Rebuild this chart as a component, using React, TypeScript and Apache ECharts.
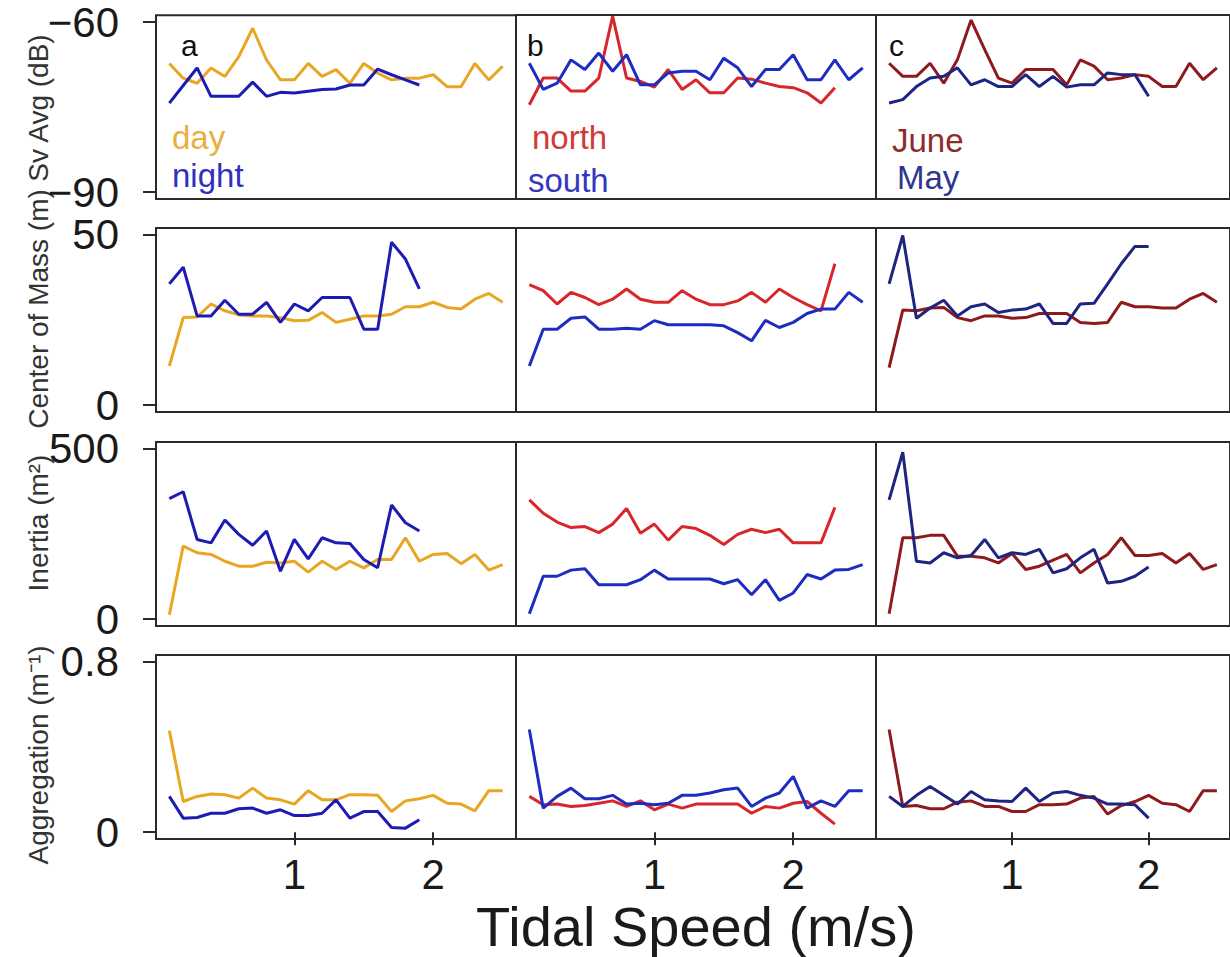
import React, { useEffect, useRef } from "react";
import * as echarts from "echarts";

// Tidal speed bins (m/s)
const SPEED = [
  0.1, 0.2, 0.3, 0.4, 0.5, 0.6, 0.7, 0.8, 0.9, 1.0, 1.1, 1.2, 1.3,
  1.4, 1.5, 1.6, 1.7, 1.8, 1.9, 2.0, 2.1, 2.2, 2.3, 2.4, 2.5,
];

// Row 1: mean volume backscattering (dB)
const DAY_SV = [-67.3, -69.9, -70.8, -68.1, -69.6, -66.1, -61.1, -66.7, -70.2, -70.2, -67.3, -69.6, -68.4, -70.8, -67.3, -69.0, -70.2, -69.9, -69.9, -69.3, -71.4, -71.4, -67.3, -70.2, -67.8];
const NIGHT_SV = [-74.3, -71.2, -68.1, -73.1, -73.1, -73.1, -70.6, -73.1, -72.4, -72.5, -72.2, -71.9, -71.8, -71.1, -71.1, -68.3, -69.3, -70.2, -71.1];
const NORTH_SV = [-74.6, -69.9, -69.9, -72.2, -72.2, -69.9, -59.0, -69.9, -70.5, -71.5, -68.4, -71.9, -70.2, -72.5, -72.5, -69.9, -70.1, -70.8, -71.4, -71.6, -72.5, -74.3, -71.6];
const SOUTH_SV = [-67.3, -71.9, -70.8, -66.7, -68.4, -65.5, -68.7, -65.8, -71.1, -71.1, -69.0, -68.7, -68.7, -70.2, -66.4, -68.1, -71.4, -68.4, -68.4, -65.8, -70.2, -70.2, -66.7, -70.2, -68.1];
const JUNE_SV = [-67.3, -69.6, -69.6, -67.3, -70.8, -66.7, -59.7, -64.9, -69.9, -70.8, -68.4, -68.4, -68.4, -71.1, -66.7, -67.8, -70.2, -69.9, -69.3, -69.6, -71.4, -71.4, -67.3, -70.2, -68.1];
const MAY_SV = [-74.3, -73.7, -71.4, -69.9, -69.6, -68.1, -71.1, -70.2, -71.4, -71.4, -69.3, -71.4, -69.6, -71.5, -71.1, -71.1, -69.0, -69.3, -69.3, -73.1];

// Row 2: center of mass (m)
const DAY_COM = [11.5, 25.7, 25.9, 29.7, 27.7, 26.5, 26.2, 26.2, 25.7, 24.8, 24.9, 27.2, 24.3, 25.2, 26.2, 26.2, 26.7, 28.9, 28.9, 30.2, 28.7, 28.2, 31.1, 32.8, 30.2];
const NIGHT_COM = [35.6, 40.5, 26.2, 26.2, 30.8, 26.7, 26.7, 30.2, 24.3, 29.7, 27.7, 31.6, 31.6, 31.6, 22.3, 22.3, 47.8, 42.9, 34.1];
const NORTH_COM = [35.4, 33.6, 29.7, 33.1, 31.6, 29.5, 31.1, 34.1, 31.1, 30.2, 30.2, 33.6, 31.1, 29.5, 29.5, 30.6, 33.1, 30.2, 34.1, 31.6, 29.5, 27.7, 41.5];
const SOUTH_COM = [11.5, 22.3, 22.3, 25.5, 25.9, 22.3, 22.3, 22.6, 22.3, 24.8, 23.6, 23.6, 23.6, 23.6, 23.3, 21.3, 18.9, 24.9, 22.8, 24.3, 26.9, 28.2, 28.2, 33.1, 30.2];
const JUNE_COM = [11.0, 27.9, 27.7, 28.5, 28.7, 25.7, 24.8, 26.2, 26.2, 25.5, 25.7, 26.9, 26.9, 26.9, 24.3, 24.0, 24.3, 30.2, 28.9, 28.9, 28.5, 28.5, 31.1, 32.8, 30.2];
const MAY_COM = [35.6, 49.8, 25.5, 28.5, 30.8, 26.2, 28.9, 29.7, 27.2, 27.9, 28.2, 29.7, 24.0, 24.0, 29.7, 29.9, 35.6, 41.5, 46.6, 46.6];

// Row 3: inertia (m^2)
const DAY_IN = [12.8, 214.6, 195, 190, 170, 155.5, 155.5, 167, 165, 170, 138, 170, 146, 170, 150.6, 175, 175, 239, 170, 190, 193, 163, 190, 144, 160];
const NIGHT_IN = [354, 374, 234, 224, 291, 249, 217, 259, 141, 234, 177, 239, 224, 222, 175, 151, 335, 283, 259];
const NORTH_IN = [350, 311, 285, 269, 272, 254, 279, 325, 252, 279, 232, 272, 266, 246, 219, 249, 264, 254, 264, 224, 224, 224, 328];
const SOUTH_IN = [15.7, 126, 126, 144, 148, 101, 101, 101, 116, 144, 118, 118, 118, 118, 104, 116, 72, 116, 55, 77, 131, 118, 144, 146, 160];
const JUNE_IN = [15.7, 239, 239, 246, 246, 185, 185, 180, 165, 193, 146, 155.5, 173, 190, 136, 165, 190, 239, 187, 187, 193, 165, 193, 146, 160];
const MAY_IN = [350, 490, 170, 165, 195, 180, 187, 234, 180, 195, 190, 205, 136, 148, 180, 205, 106, 111, 126, 153];

// Row 4: aggregation (m^-1)
const DAY_AGG = [0.477, 0.144, 0.168, 0.179, 0.176, 0.16, 0.207, 0.16, 0.152, 0.132, 0.195, 0.152, 0.152, 0.176, 0.176, 0.173, 0.097, 0.147, 0.157, 0.173, 0.136, 0.132, 0.1, 0.195, 0.195];
const NIGHT_AGG = [0.168, 0.066, 0.069, 0.089, 0.089, 0.11, 0.113, 0.089, 0.105, 0.078, 0.078, 0.089, 0.152, 0.066, 0.097, 0.097, 0.022, 0.019, 0.058];
const NORTH_AGG = [0.168, 0.129, 0.132, 0.121, 0.125, 0.136, 0.147, 0.121, 0.147, 0.105, 0.132, 0.113, 0.132, 0.132, 0.132, 0.132, 0.089, 0.121, 0.113, 0.136, 0.144, 0.089, 0.038];
const SOUTH_AGG = [0.482, 0.113, 0.168, 0.207, 0.157, 0.157, 0.173, 0.132, 0.136, 0.129, 0.136, 0.173, 0.173, 0.184, 0.199, 0.207, 0.121, 0.16, 0.184, 0.262, 0.113, 0.147, 0.121, 0.195, 0.195];
const JUNE_AGG = [0.482, 0.121, 0.125, 0.11, 0.11, 0.141, 0.147, 0.121, 0.121, 0.097, 0.097, 0.129, 0.129, 0.132, 0.16, 0.168, 0.085, 0.125, 0.144, 0.173, 0.136, 0.129, 0.097, 0.195, 0.195];
const MAY_AGG = [0.168, 0.121, 0.173, 0.215, 0.173, 0.132, 0.191, 0.152, 0.147, 0.144, 0.207, 0.144, 0.184, 0.191, 0.173, 0.16, 0.132, 0.132, 0.129, 0.066];

// Axis labels and ticks
const ROW_NAMES = ["Sv Avg (dB)", "Center of Mass (m)", "Inertia (m\u00B2)", "Aggregation (m\u207B\u00B9)"];
const ROW_MIN = [-91.2, -2, -20, -0.032];
const ROW_MAX = [-58.8, 52, 520, 0.832];
const ROW_TICKS = [[-90, -60], [0, 50], [0, 500], [0, 0.8]];
const X_TICKS = [1, 2];
const X_TITLE = "Tidal Speed (m/s)";
const PANEL_LETTERS = ["a", "b", "c"];
const GROUP_NAMES = [["day", "night"], ["north", "south"], ["June", "May"]];

// Line colours per column: [first group, second group]
const LINE_COLORS = [["#E8A623", "#1C1CB4"], ["#D8262A", "#1F2CC0"], ["#8E1A1E", "#1E2580"]];
const TEXT_COLORS = [["#E9B040", "#3030C0"], ["#D23A3A", "#3438BE"], ["#8E2C2C", "#2E3690"]];

const PANEL_DATA = [
  [[DAY_SV, NIGHT_SV], [NORTH_SV, SOUTH_SV], [JUNE_SV, MAY_SV]],
  [[DAY_COM, NIGHT_COM], [NORTH_COM, SOUTH_COM], [JUNE_COM, MAY_COM]],
  [[DAY_IN, NIGHT_IN], [NORTH_IN, SOUTH_IN], [JUNE_IN, MAY_IN]],
  [[DAY_AGG, NIGHT_AGG], [NORTH_AGG, SOUTH_AGG], [JUNE_AGG, MAY_AGG]],
];

const FONT = "'Liberation Sans', Arial, sans-serif";
const COL_LEFT = [156, 516, 876];
const ROW_TOP = [15, 228, 442, 655];
const PANEL_W = 360;
const PANEL_H = 184;
const INK = "#1a1a1a";

// Tick labels use a true minus sign
const fmtTick = (v: number) => String(v).replace("-", "\u2212");

function buildOption() {
  const grid: any[] = [];
  const xAxis: any[] = [];
  const yAxis: any[] = [];
  const series: any[] = [];
  const graphic: any[] = [];

  for (let r = 0; r < 4; r++) {
    for (let c = 0; c < 3; c++) {
      const idx = r * 3 + c;
      const bottom = r === 3;
      const left = c === 0;
      grid.push({
        left: COL_LEFT[c],
        top: ROW_TOP[r],
        width: PANEL_W,
        height: PANEL_H,
        show: true,
        borderColor: "#2a2a2a",
        borderWidth: 2,
        backgroundColor: "transparent",
      });
      xAxis.push({
        type: "value",
        gridIndex: idx,
        min: 0.004,
        max: 2.596,
        axisLine: { show: false },
        splitLine: { show: false },
        axisTick: {
          show: bottom,
          customValues: X_TICKS,
          length: 13,
          lineStyle: { color: "#2a2a2a", width: 2 },
        },
        axisLabel: {
          show: bottom,
          customValues: X_TICKS,
          formatter: fmtTick,
          fontSize: 42,
          lineHeight: 40,
          fontFamily: FONT,
          color: INK,
          margin: 15,
        },
        ...(bottom && c === 1
          ? {
              name: X_TITLE,
              nameLocation: "middle",
              nameGap: 60,
              nameTextStyle: { fontSize: 56, lineHeight: 54, fontFamily: FONT, color: INK },
            }
          : {}),
      });
      yAxis.push({
        type: "value",
        gridIndex: idx,
        min: ROW_MIN[r],
        max: ROW_MAX[r],
        axisLine: { show: false },
        splitLine: { show: false },
        axisTick: {
          show: left,
          customValues: ROW_TICKS[r],
          length: 13,
          lineStyle: { color: "#2a2a2a", width: 2 },
        },
        axisLabel: {
          show: left,
          customValues: ROW_TICKS[r],
          formatter: fmtTick,
          fontSize: 42,
          lineHeight: 40,
          padding: [4, 0, 0, 0],
          fontFamily: FONT,
          color: INK,
          margin: 37,
        },
      });
      PANEL_DATA[r][c].forEach((values, g) => {
        series.push({
          type: "line",
          name: GROUP_NAMES[c][g],
          xAxisIndex: idx,
          yAxisIndex: idx,
          data: values.map((v, i) => [SPEED[i], v]),
          showSymbol: false,
          symbol: "none",
          clip: true,
          z: g === 0 ? 2 : 3,
          lineStyle: { color: LINE_COLORS[c][g], width: 3 },
          itemStyle: { color: LINE_COLORS[c][g] },
        });
      });
    }
  }

  // Row titles, rotated, down the left margin
  const nameY = [108, 309, 523, 755];
  ROW_NAMES.forEach((name, r) => {
    graphic.push({
      type: "text",
      x: 38,
      y: nameY[r],
      rotation: Math.PI / 2,
      style: {
        text: name,
        font: `28px ${FONT}`,
        fill: "#333",
        align: "center",
        verticalAlign: "middle",
      },
    });
  });

  // Panel letters and in-panel group labels on the top row
  const letterX = [181, 527, 889];
  const legendX = [[172, 172], [532, 528], [892, 897]];
  const legendY = [[121, 159], [121, 164], [124, 161]];
  for (let c = 0; c < 3; c++) {
    graphic.push({
      type: "text",
      x: letterX[c],
      y: 30,
      style: { text: PANEL_LETTERS[c], font: `30px ${FONT}`, fill: "#111" },
    });
    GROUP_NAMES[c].forEach((label, g) => {
      graphic.push({
        type: "text",
        x: legendX[c][g],
        y: legendY[c][g],
        style: {
          text: label,
          font: `33px ${FONT}`,
          fill: TEXT_COLORS[c][g],
        },
      });
    });
  }

  return {
    animation: false,
    backgroundColor: "#ffffff",
    grid,
    xAxis,
    yAxis,
    series,
    graphic,
  };
}

export default function App() {
  const ref = useRef<HTMLDivElement>(null);
  useEffect(() => {
    if (!ref.current) return;
    const chart = echarts.init(ref.current, undefined, { renderer: "svg" });
    chart.setOption(buildOption() as any);
    return () => chart.dispose();
  }, []);
  return (
    <div
      ref={ref}
      style={{ position: "fixed", left: 0, top: 0, width: 1230, height: 957, background: "#fff" }}
    />
  );
}
